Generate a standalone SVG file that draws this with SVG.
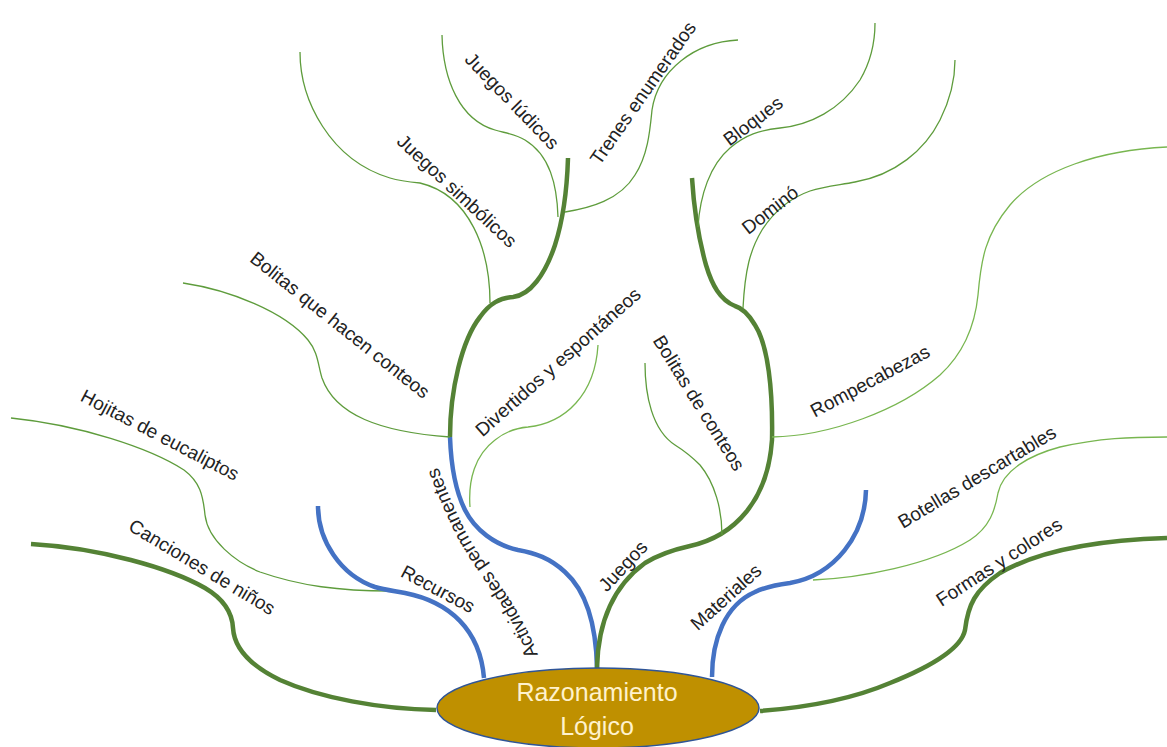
<svg xmlns="http://www.w3.org/2000/svg" width="1167" height="747" viewBox="0 0 1167 747">
<style>
.thick{fill:none;stroke:#548235;stroke-width:4.5;stroke-linecap:butt}
.blue{fill:none;stroke:#4472C4;stroke-width:4.5}
.thin{fill:none;stroke:#5e9c3c;stroke-width:1.3}
.light{fill:none;stroke:#78b650;stroke-width:1.3}
.lbl{font-family:"Liberation Sans",Arial,sans-serif;font-size:19px;fill:#222;text-anchor:middle;dominant-baseline:central}
.ctr{font-family:"Liberation Sans",Arial,sans-serif;font-size:25px;fill:#FFF2CC;text-anchor:middle}
</style>
<defs>
<path id="actPath" d="M538,655 C518,602 488,572 467,534 C452,505 440,475 431,445"/>
</defs>
<rect width="1167" height="747" fill="#fff"/>
<g id="connectors">
<path class="thick" d="M436,710 C380,709 320,698 280,680 C245,663 234,645 233,628 C232,610 222,598 205,588 C170,568 100,548 31,544"/>
<path class="thin" d="M11,418 C80,425 150,448 184,470 C200,482 203,495 205,515 C208,540 235,562 260,572 C300,586 340,591 390,591"/>
<path class="blue" d="M318,506 C318,540 340,575 375,587 C385,590 395,591 405,593 C450,602 480,630 484,678"/>
<path class="blue" d="M597,668 C596,620 585,590 565,572 C550,558 535,553 518,550 C495,545 475,530 465,510 C455,490 451,465 450,437"/>
<path class="thick" d="M450,437 C450,390 462,340 480,317 C490,303 500,298 513,297 C530,295 545,275 555,245 C563,220 567,190 568,158"/>
<path class="thin" d="M183,283 C230,290 285,312 308,340 C318,352 318,365 322,378 C335,415 380,432 450,437"/>
<path class="thin" d="M300,52 C300,100 330,160 390,178 C400,181 410,182 420,183 C470,195 490,250 490,303"/>
<path class="thin" d="M442,35 C443,80 460,120 495,130 C505,133 515,134 525,140 C550,155 557,185 558,217"/>
<path class="thin" d="M565,212 C590,208 620,200 635,175 C648,155 650,130 652,110 C658,70 695,42 738,40"/>
<path class="light" d="M470,507 C468,480 475,455 495,440 C505,432 515,428 528,427 C565,423 595,395 598,345"/>
<path class="thick" d="M597,668 C598,620 615,585 645,563 C658,555 672,550 690,546 C735,536 768,500 772,440 C773,390 768,345 755,325 C748,313 742,308 735,306 C720,300 712,285 706,265 C699,240 694,210 692,178"/>
<path class="thin" d="M645,363 C645,395 652,430 675,445 C683,450 690,455 700,465 C715,483 722,510 722,535"/>
<path class="light" d="M772,437 C830,436 900,410 940,375 C965,352 975,325 978,295 C981,260 985,235 1010,205 C1040,170 1100,150 1167,147"/>
<path class="thin" d="M743,308 C745,270 750,250 762,230 C775,210 790,198 810,191 C825,186 840,185 855,182 C895,175 925,150 940,120 C950,100 955,80 955,60"/>
<path class="thin" d="M698,227 C700,195 710,165 730,148 C745,135 760,130 780,128 C810,125 840,110 860,80 C870,63 875,45 875,23"/>
<path class="blue" d="M712,677 C712,640 725,605 755,592 C765,587 775,585 790,583 C835,575 865,535 866,490"/>
<path class="light" d="M813,580 C860,578 930,565 970,540 C990,527 995,510 998,493 C1003,470 1030,455 1060,447 C1100,438 1130,437 1167,437"/>
<path class="thick" d="M760,711 C800,708 850,700 890,683 C940,663 962,645 965,630 C968,605 975,590 1000,573 C1040,550 1100,540 1167,538"/>
</g>
<g id="center">
<ellipse cx="598" cy="708" rx="161" ry="40" fill="#BF9000" stroke="#2F5597" stroke-width="1.5"/>
<text class="ctr" x="597" y="701">Razonamiento</text>
<text class="ctr" x="597" y="735">Lógico</text>
</g>
<g id="n-canciones"><text class="lbl" transform="translate(202,567) rotate(31)">Canciones de niños</text></g>
<g id="n-hojitas"><text class="lbl" transform="translate(160,435) rotate(27.5)">Hojitas de eucaliptos</text></g>
<g id="n-recursos"><text class="lbl" transform="translate(438,589) rotate(28)">Recursos</text></g>
<g id="n-actividades"><text class="lbl" style="text-anchor:start;dominant-baseline:auto"><textPath href="#actPath">Actividades permanentes</textPath></text></g>
<g id="n-juegos"><text class="lbl" transform="translate(623,566) rotate(-47)">Juegos</text></g>
<g id="n-materiales"><text class="lbl" transform="translate(726,597) rotate(-42)">Materiales</text></g>
<g id="n-formas"><text class="lbl" transform="translate(999,562) rotate(-33)">Formas y colores</text></g>
<g id="n-botellas"><text class="lbl" transform="translate(977,477) rotate(-31)">Botellas descartables</text></g>
<g id="n-bolitas-conteos"><text class="lbl" transform="translate(699,403) rotate(58)">Bolitas de conteos</text></g>
<g id="n-rompecabezas"><text class="lbl" transform="translate(870,381) rotate(-28)">Rompecabezas</text></g>
<g id="n-domino"><text class="lbl" transform="translate(770,210) rotate(-38)">Dominó</text></g>
<g id="n-bloques"><text class="lbl" transform="translate(753,121) rotate(-37)">Bloques</text></g>
<g id="n-trenes"><text class="lbl" transform="translate(643,93) rotate(-55)">Trenes enumerados</text></g>
<g id="n-ludicos"><text class="lbl" transform="translate(512,101) rotate(46)">Juegos lúdicos</text></g>
<g id="n-simbolicos"><text class="lbl" transform="translate(457,191) rotate(43)">Juegos simbólicos</text></g>
<g id="n-bolitas-hacen"><text class="lbl" transform="translate(340,325) rotate(38.5)">Bolitas que hacen conteos</text></g>
<g id="n-divertidos"><text class="lbl" transform="translate(558,362) rotate(-41.5)">Divertidos y espontáneos</text></g>
</svg>
